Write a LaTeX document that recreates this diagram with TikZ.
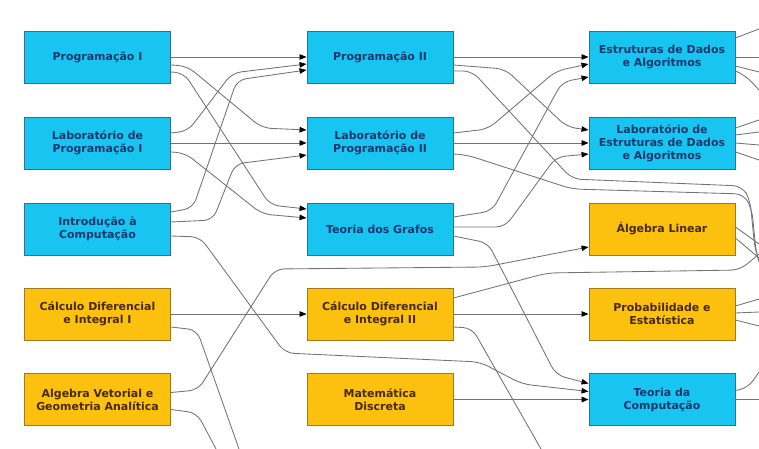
\documentclass[tikz,border=0pt]{standalone}
\usepackage{fontspec}
\setmainfont{DejaVu Sans}
\usetikzlibrary{arrows.meta,calc}

\definecolor{cyanfill}{RGB}{24,196,240}
\definecolor{cyanedge}{RGB}{45,115,145}
\definecolor{cyantext}{RGB}{22,55,110}
\definecolor{goldfill}{RGB}{252,192,14}
\definecolor{goldedge}{RGB}{165,120,25}
\definecolor{goldtext}{RGB}{70,42,0}
\definecolor{linkgray}{RGB}{115,115,115}

\tikzset{
  course/.style={draw, line width=0.9bp, minimum width=146bp, minimum height=52bp,
    inner sep=0pt, align=center, font=\bfseries\fontsize{11}{13}\selectfont},
  cs/.style={course, fill=cyanfill, draw=cyanedge, text=cyantext},
  mt/.style={course, fill=goldfill, draw=goldedge, text=goldtext},
  link/.style={draw=linkgray, line width=0.85bp, rounded corners=9bp},
  arr/.style={link, -{Triangle[length=7bp,width=5.5bp,color=black]}},
}

\begin{document}
\begin{tikzpicture}[x=1bp,y=-1bp]
\useasboundingbox (0,0) rectangle (759,449);
\fill[white] (0,0) rectangle (759,449);

% first column
\node[cs] (p1)  at (97.5,57)   {Programação I};
\node[cs] (lp1) at (97.5,143)  {Laboratório de\\Programação I};
\node[cs] (ic)  at (97.5,229)  {Introdução à\\Computação};
\node[mt] (c1)  at (97.5,314)  {Cálculo Diferencial\\e Integral I};
\node[mt] (av)  at (97.5,399.5){Algebra Vetorial e\\Geometria Analítica};

% second column
\node[cs] (p2)  at (380,57)    {Programação II};
\node[cs] (lp2) at (380,143)   {Laboratório de\\Programação II};
\node[cs] (tg)  at (380,229)   {Teoria dos Grafos};
\node[mt] (c2)  at (380,314)   {Cálculo Diferencial\\e Integral II};
\node[mt] (md)  at (380,399.5) {Matemática\\Discreta};

% third column
\node[cs] (ed)  at (662,57)    {Estruturas de Dados\\e Algoritmos};
\node[cs] (led) at (662,143)   {Laboratório de\\Estruturas de Dados\\e Algoritmos};
\node[mt] (al)  at (662,229)   {Álgebra Linear};
\node[mt] (pe)  at (662,314)   {Probabilidade e\\Estatística};
\node[cs] (tc)  at (662,399.5) {Teoria da\\Computação};

% first column -> second column
\draw[arr] (p1.east) -- (p2.west);
\draw[arr] ($(p1.east)+(0,8)$) -- (187,66) -- (262,128) -- ($(lp2.west)+(0,-13)$);
\draw[arr] ($(p1.east)+(0,15)$) -- (184,73) -- (270,205) -- ($(tg.west)+(0,-20)$);
\draw[arr] ($(lp1.east)+(0,-10)$) -- (188,131) -- (232,73) -- ($(p2.west)+(0,7)$);
\draw[arr] (lp1.east) -- (lp2.west);
\draw[arr] ($(lp1.east)+(0,9)$) -- (185,153) -- (262,214) -- ($(tg.west)+(0,-11)$);
\draw[arr] ($(ic.east)+(0,-17)$) -- (193,208) -- (237,80) -- ($(p2.west)+(0,13)$);
\draw[arr] ($(ic.east)+(0,-7)$) -- (213,220) -- (235,164) -- ($(lp2.west)+(0,12)$);
\draw[arr] ($(ic.east)+(0,7)$) -- (200,237) -- (285,353) -- (480,362) -- (522,384) -- ($(tc.west)+(0,-8)$);
\draw[arr] (c1.east) -- (c2.west);
\draw[link] ($(c1.east)+(0,13)$) -- (197,330) -- (239,449);
\draw[arr] ($(av.east)+(0,-7)$) -- (198,390) -- (275,269) -- (485,267) -- ($(al.west)+(0,18)$);
\draw[link] ($(av.east)+(0,10)$) -- (197,413) -- (216,449);

% second column -> third column
\draw[arr] (p2.east) -- (ed.west);
\draw[arr] ($(p2.east)+(0,8)$) -- (505,69) -- (567,127) -- ($(led.west)+(0,-13)$);
\draw[link] ($(p2.east)+(0,14)$) -- (472,71) -- (572,179) -- (742,186) -- (750,200) -- (755,250) -- (759,260);
\draw[arr] ($(lp2.east)+(0,-10)$) -- (488,129) -- (556,71) -- ($(ed.west)+(0,7)$);
\draw[arr] (lp2.east) -- (led.west);
\draw[link] ($(lp2.east)+(0,11)$) -- (467,155) -- (572,189) -- (744,194) -- (752,210) -- (756,252) -- (759,262);
\draw[arr] ($(tg.east)+(0,-12)$) -- (492,211) -- (562,82) -- ($(ed.west)+(0,20)$);
\draw[arr] ($(tg.east)+(0,-2)$) -- (505,227) -- (556,157) -- ($(led.west)+(0,11)$);
\draw[arr] ($(tg.east)+(0,7)$) -- (488,243) -- (556,375) -- ($(tc.west)+(0,-16)$);
\draw[link] ($(c2.east)+(0,-16)$) -- (547,273) -- (740,270) -- (759,254);
\draw[arr] (c2.east) -- (pe.west);
\draw[link] ($(c2.east)+(0,13)$) -- (472,328) -- (541,449);
\draw[arr] (md.east) -- (tc.west);

% third column -> further courses
\draw[link] ($(ed.east)+(0,-19)$) -- (759,29);
\draw[link] (ed.east) -- (759,57);
\draw[link] ($(ed.east)+(0,9)$) -- (759,72);
\draw[link] ($(ed.east)+(0,14)$) -- (745,75) -- (759,90);
\draw[link] ($(led.east)+(0,-15)$) -- (759,120);
\draw[link] ($(led.east)+(0,-8)$) -- (759,132);
\draw[link] (led.east) -- (759,145);
\draw[link] ($(led.east)+(0,9)$) -- (759,160);
\draw[link] ($(al.east)+(0,-2)$) -- (759,244);
\draw[link] ($(al.east)+(0,9)$) -- (759,258);
\draw[link] ($(pe.east)+(0,-8)$) -- (759,299);
\draw[link] ($(pe.east)+(0,-1)$) -- (759,312);
\draw[link] ($(pe.east)+(0,6)$) -- (759,326);
\draw[link] ($(tc.east)+(0,-9)$) -- (748,388) -- (759,372);
\draw[link] (tc.east) -- (759,399.5);
\end{tikzpicture}
\end{document}
